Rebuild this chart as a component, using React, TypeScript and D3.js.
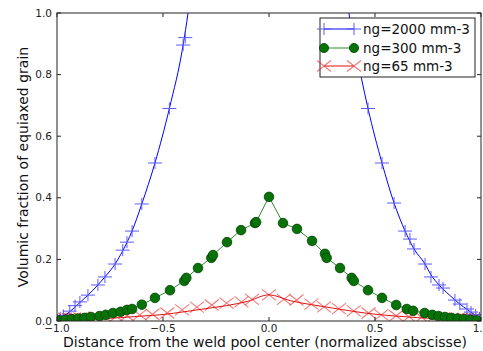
import { useEffect, useRef } from 'react'
import * as d3 from 'd3'

// ng=2000 mm-3 : smooth curve + scattered "+" markers
const blueLine: [number, number][] = [
  [-1.0, 0.004], [-0.97, 0.015], [-0.94, 0.03], [-0.9, 0.055], [-0.854, 0.084], [-0.807, 0.117],
  [-0.774, 0.143], [-0.726, 0.185], [-0.69, 0.228], [-0.646, 0.292], [-0.6, 0.38],
  [-0.538, 0.513], [-0.47, 0.69], [-0.405, 0.896], [-0.382, 1.0], [-0.36, 1.12],
  [0.36, 1.12], [0.377, 1.0], [0.405, 0.896], [0.467, 0.69], [0.533, 0.513], [0.59, 0.383],
  [0.642, 0.292], [0.684, 0.234], [0.736, 0.185], [0.764, 0.15], [0.802, 0.117], [0.85, 0.085],
  [0.9, 0.055], [0.934, 0.038], [0.97, 0.02], [1.0, 0.006]
]
const blueMarks: [number, number][] = [
  [-0.395, 0.92], [-0.405, 0.896], [-0.47, 0.69], [-0.538, 0.513], [-0.6, 0.38], [-0.646, 0.292],
  [-0.67, 0.256], [-0.69, 0.23], [-0.726, 0.185], [-0.774, 0.143], [-0.807, 0.117], [-0.854, 0.084],
  [-0.892, 0.062], [-0.915, 0.05], [-0.94, 0.032], [-0.97, 0.018], [-0.985, 0.01],
  [0.395, 0.92], [0.405, 0.896], [0.467, 0.69], [0.533, 0.513], [0.59, 0.383], [0.642, 0.292],
  [0.665, 0.266], [0.684, 0.234], [0.736, 0.185], [0.764, 0.143], [0.802, 0.117], [0.821, 0.107],
  [0.877, 0.068], [0.9, 0.055], [0.934, 0.039], [0.953, 0.029], [0.975, 0.02], [0.993, 0.01]
]

// ng=300 mm-3 : green circles joined by a line
const greenX = [
  -0.99, -0.96, -0.93, -0.9, -0.87, -0.84, -0.8, -0.77, -0.736, -0.7, -0.67, -0.646, -0.6, -0.538,
  -0.467, -0.4, -0.39, -0.335, -0.272, -0.264, -0.198, -0.132, -0.066, -0.061, 0,
  0.066, 0.132, 0.203, 0.264, 0.272, 0.335, 0.39, 0.4, 0.467, 0.533, 0.6, 0.65, 0.68, 0.734,
  0.77, 0.8, 0.83, 0.86, 0.89, 0.92, 0.95, 0.98
]
const greenY = [
  0.002, 0.004, 0.006, 0.008, 0.01, 0.013, 0.016, 0.02, 0.026, 0.03, 0.036, 0.039, 0.053, 0.075,
  0.1, 0.13, 0.14, 0.172, 0.205, 0.214, 0.256, 0.295, 0.318, 0.321, 0.403,
  0.318, 0.299, 0.26, 0.218, 0.205, 0.172, 0.14, 0.13, 0.1, 0.075, 0.052, 0.039, 0.033, 0.026,
  0.02, 0.016, 0.013, 0.01, 0.008, 0.006, 0.004, 0.002
]

// ng=65 mm-3 : smooth red curve + light "x" markers
const redLineX = [-1.0, -0.9, -0.8, -0.7, -0.6, -0.5, -0.4, -0.3, -0.2, -0.1, 0, 0.1, 0.2, 0.3, 0.4, 0.5, 0.6, 0.7, 0.8, 0.9, 1.0]
const redLineY = [0.002, 0.004, 0.007, 0.011, 0.016, 0.021, 0.03, 0.04, 0.05, 0.064, 0.085, 0.066, 0.053, 0.042, 0.031, 0.022, 0.016, 0.011, 0.007, 0.004, 0.002]
const redMarkX = [
  -0.998, -0.993, -0.988, -0.983, -0.977, -0.97, -0.962, -0.955, -0.945, -0.935, -0.92, -0.905,
  -0.89, -0.86, -0.82, -0.77, -0.72, -0.67, -0.61,
  -0.55, -0.48, -0.41, -0.34, -0.27, -0.2, -0.13, -0.08, 0,
  0.07, 0.13, 0.2, 0.26, 0.33, 0.4, 0.47, 0.53, 0.6, 0.66, 0.72, 0.77, 0.82, 0.86, 0.89,
  0.905, 0.92, 0.935, 0.945, 0.955, 0.962, 0.97, 0.977, 0.983, 0.988, 0.993, 0.998
]
const redMarkY = [
  0.006, 0.003, 0.008, 0.004, 0.007, 0.005, 0.009, 0.004, 0.008, 0.006, 0.009, 0.006,
  0.01, 0.008, 0.012, 0.012, 0.015, 0.017, 0.02,
  0.022, 0.026, 0.036, 0.045, 0.052, 0.058, 0.062, 0.07, 0.085,
  0.07, 0.068, 0.055, 0.046, 0.04, 0.033, 0.026, 0.02, 0.017, 0.014, 0.012, 0.01, 0.01, 0.008,
  0.009, 0.006, 0.008, 0.005, 0.007, 0.004, 0.008, 0.005, 0.007, 0.003, 0.006, 0.004, 0.005
]

const xTicks = [-1.0, -0.5, 0.0, 0.5, 1.0]
const yTicks = [0.0, 0.2, 0.4, 0.6, 0.8, 1.0]
const legendLabels = ['ng=2000 mm-3', 'ng=300 mm-3', 'ng=65 mm-3']

const W = 483
const H = 351

export default function App() {
  const ref = useRef<SVGSVGElement>(null)

  useEffect(() => {
    if (!ref.current) return
    const svg = d3.select(ref.current)
    svg.selectAll('*').remove()

    const margin = { top: 13, right: 2, bottom: 30, left: 57 }
    const x = d3.scaleLinear().domain([-1, 1]).range([margin.left, W - margin.right])
    const y = d3.scaleLinear().domain([0, 1]).range([H - margin.bottom, margin.top])
    const fmt = (v: number) => d3.format('.1f')(v).replace('-', '\u2212')

    svg.append('defs').append('clipPath').attr('id', 'plot-clip')
      .append('rect')
      .attr('x', x(-1)).attr('y', y(1))
      .attr('width', x(1) - x(-1)).attr('height', y(0) - y(1))

    const plot = svg.append('g').attr('clip-path', 'url(#plot-clip)')
    const line = d3.line<[number, number]>().x(d => x(d[0])).y(d => y(d[1]))

    const plus = (g: d3.Selection<SVGGElement, unknown, null, undefined>, cx: number, cy: number, color: string) => {
      g.append('path')
        .attr('d', `M${cx - 7},${cy}H${cx + 7}M${cx},${cy - 6}V${cy + 6}`)
        .attr('stroke', color).attr('stroke-width', 1).attr('fill', 'none')
    }
    const cross = (g: d3.Selection<SVGGElement, unknown, null, undefined>, cx: number, cy: number, color: string, op: number) => {
      g.append('path')
        .attr('d', `M${cx - 7},${cy - 5.5}L${cx + 7},${cy + 5.5}M${cx - 7},${cy + 5.5}L${cx + 7},${cy - 5.5}`)
        .attr('stroke', color).attr('stroke-opacity', op).attr('stroke-width', 1.1).attr('fill', 'none')
    }

    // red (drawn first, underneath)
    const redG = plot.append('g')
    redMarkX.forEach((v, i) => cross(redG, x(v), y(redMarkY[i]), '#ee1a1a', 0.6))
    plot.append('path')
      .datum(redLineX.map((v, i) => [v, redLineY[i]] as [number, number]))
      .attr('d', line.curve(d3.curveMonotoneX))
      .attr('fill', 'none').attr('stroke', '#e01010').attr('stroke-width', 1)

    // blue
    line.curve(d3.curveMonotoneX)
    plot.append('path')
      .datum(blueLine)
      .attr('d', line)
      .attr('fill', 'none').attr('stroke', '#0000ff').attr('stroke-width', 1)
    const blueG = plot.append('g')
    blueMarks.forEach(d => plus(blueG, x(d[0]), y(d[1]), '#5a5aff'))

    // green
    line.curve(d3.curveLinear)
    plot.append('path')
      .datum(greenX.map((v, i) => [v, greenY[i]] as [number, number]))
      .attr('d', line)
      .attr('fill', 'none').attr('stroke', '#2e8b2e').attr('stroke-width', 1)
    plot.append('g').selectAll('circle')
      .data(greenX)
      .join('circle')
      .attr('cx', d => x(d))
      .attr('cy', (_, i) => y(greenY[i]))
      .attr('r', 4.8)
      .attr('fill', '#077207')
      .attr('stroke', '#034203')
      .attr('stroke-width', 0.8)

    // frame
    const x0 = x(-1), x1 = x(1), y0 = y(0), y1 = y(1)
    svg.append('rect')
      .attr('x', x0).attr('y', y1).attr('width', x1 - x0).attr('height', y0 - y1)
      .attr('fill', 'none').attr('stroke', '#222').attr('stroke-width', 1)

    const ticks = svg.append('g').attr('stroke', '#222').attr('stroke-width', 1)
    xTicks.forEach(t => {
      ticks.append('line').attr('x1', x(t)).attr('x2', x(t)).attr('y1', y0).attr('y2', y0 - 4)
      ticks.append('line').attr('x1', x(t)).attr('x2', x(t)).attr('y1', y1).attr('y2', y1 + 4)
    })
    yTicks.forEach(t => {
      ticks.append('line').attr('x1', x0).attr('x2', x0 + 4).attr('y1', y(t)).attr('y2', y(t))
      ticks.append('line').attr('x1', x1).attr('x2', x1 - 4).attr('y1', y(t)).attr('y2', y(t))
    })

    const font = 'DejaVu Sans, sans-serif'
    svg.append('g').selectAll('text')
      .data(xTicks)
      .join('text')
      .attr('x', d => x(d))
      .attr('y', y0 + 11)
      .attr('text-anchor', 'middle')
      .attr('font-family', font).attr('font-size', 10.5).attr('fill', '#222')
      .text(d => fmt(d))
    svg.append('g').selectAll('text')
      .data(yTicks)
      .join('text')
      .attr('x', x0 - 5)
      .attr('y', d => y(d) + 3.5)
      .attr('text-anchor', 'end')
      .attr('font-family', font).attr('font-size', 10.5).attr('fill', '#222')
      .text(d => fmt(d))

    svg.append('text')
      .attr('x', 265)
      .attr('y', 347)
      .attr('text-anchor', 'middle')
      .attr('font-family', font).attr('font-size', 14).attr('fill', '#111')
      .text('Distance from the weld pool center (normalized abscisse)')
    svg.append('text')
      .attr('transform', `translate(28,${(y0 + y1) / 2}) rotate(-90)`)
      .attr('text-anchor', 'middle')
      .attr('font-family', font).attr('font-size', 14).attr('fill', '#111')
      .text('Volumic fraction of equiaxed grain')

    // legend
    const lg = svg.append('g')
    lg.append('rect')
      .attr('x', 320).attr('y', 18).attr('width', 155).attr('height', 59)
      .attr('fill', '#fff').attr('stroke', '#222').attr('stroke-width', 1)
    const rows = [29, 48, 66]
    const hx0 = 324, hx1 = 354
    rows.forEach((ry, i) => {
      const color = ['#0000ff', '#2e8b2e', '#e01010'][i]
      lg.append('line').attr('x1', hx0).attr('x2', hx1).attr('y1', ry).attr('y2', ry)
        .attr('stroke', color).attr('stroke-width', 1)
      ;[hx0, hx1].forEach(hx => {
        if (i === 0) plus(lg, hx, ry, '#5a5aff')
        else if (i === 1) lg.append('circle').attr('cx', hx).attr('cy', ry).attr('r', 4.6)
          .attr('fill', '#077207').attr('stroke', '#034203').attr('stroke-width', 0.8)
        else cross(lg, hx, ry, '#ee1a1a', 0.6)
      })
      lg.append('text')
        .attr('x', 363).attr('y', ry + 5)
        .attr('font-family', font).attr('font-size', 13.5).attr('fill', '#111')
        .text(legendLabels[i])
    })
  }, [])

  return (
    <svg
      ref={ref}
      width={W}
      height={H}
      style={{ position: 'absolute', left: 0, top: 0, background: '#fff' }}
    />
  )
}
